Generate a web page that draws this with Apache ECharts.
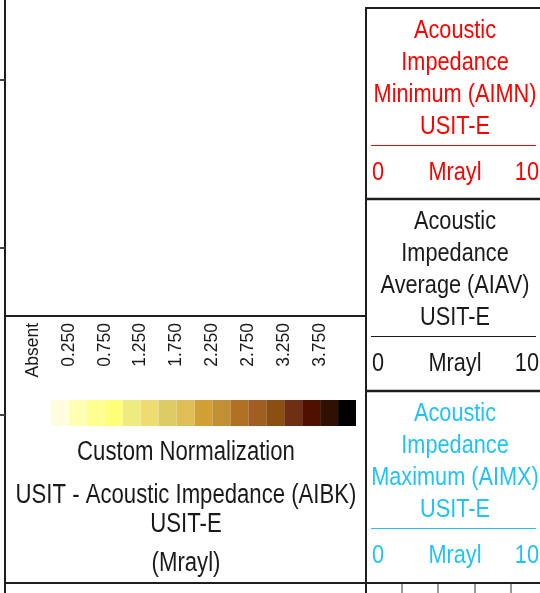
<!DOCTYPE html>
<html>
<head>
<meta charset="utf-8">
<script src="https://cdn.jsdelivr.net/npm/echarts@6/dist/echarts.min.js"></script>
<style>html,body{margin:0;padding:0;background:#fff;}#c{width:540px;height:593px;}</style>
</head>
<body>
<div id="c"></div>
<script>
// ---- data ----
var cellNames = ['Absent','0.000-0.250','0.250-0.500','0.500-0.750','0.750-1.000','1.000-1.250','1.250-1.500','1.500-1.750','1.750-2.000','2.000-2.250','2.250-2.500','2.500-2.750','2.750-3.000','3.000-3.250','3.250-3.500','3.500-3.750','3.750-4.000','4.000-4.250'];
var cellFill = ['-',1,1,1,1,1,1,1,1,1,1,1,1,1,1,1,1,1];
var cellColors = ['#ffffff','#ffffe0','#ffffb4','#ffff90','#ffff78','#eeec80','#eedc70','#dccc66','#dfbe55','#d2a035','#c09032','#b07022','#a05f22','#8c4f12','#702e12','#501000','#301000','#000000'];
var tickLabels = ['Absent','0.250','0.750','1.250','1.750','2.250','2.750','3.250','3.750',''];
var legendTitle = 'Custom Normalization';
var legendLines = ['USIT - Acoustic Impedance (AIBK)','USIT-E','(Mrayl)'];
var panelTitles = [
  ['Acoustic','Impedance','Minimum (AIMN)','USIT-E'],
  ['Acoustic','Impedance','Average (AIAV)','USIT-E'],
  ['Acoustic','Impedance','Maximum (AIMX)','USIT-E']
];
var panelColors = ['#ff0000','#1a1a1a','#22c3f3'];
var scaleMin = ['0','0','0'];
var scaleMax = ['10','10','10'];
var scaleUnit = ['Mrayl','Mrayl','Mrayl'];

// ---- layout ----
var FONT = "'Liberation Sans',Arial,sans-serif";
var frame = '#1e1e1e';
var g = [];
function line(x1,y1,x2,y2,w,c){g.push({type:'line',silent:true,shape:{x1:x1,y1:y1,x2:x2,y2:y2},style:{stroke:c||frame,lineWidth:w||2}});}
function text(x,y,s,c,size,align,sx){g.push({type:'text',silent:true,x:x,y:y,scaleX:sx||0.82,style:{text:s,fill:c||'#1a1a1a',font:(size||26)+'px '+FONT,textAlign:align||'center',textVerticalAlign:'middle'}});}

// left track frame and depth ticks
line(5,0,5,593,2);
[80,248,415].forEach(function(y){line(0,y,5,y,2,'#444');});
// legend box
line(5,316,366,316,2);
// right column frame
line(366,7,366,593,2);
line(365,8,540,8,2);
line(366,199,540,199,2.5);
line(366,391,540,391,2.5);
line(5,583,540,583,2);
[402,438,475,511].forEach(function(x){line(x,583,x,593,1,'#333');});

// right panels
var panelTop = [8,199,391];
for (var p=0;p<3;p++){
  var o = panelTop[p]-8;
  var col = panelColors[p];
  for (var k=0;k<4;k++) text(455, 30.5+o+k*32, panelTitles[p][k], col, 26, 'center', 0.835);
  line(371,145.5+o,536,145.5+o,1,col);
  text(372,173+o,scaleMin[p],col,26,'left',0.835);
  text(455,173+o,scaleUnit[p],col,26,'center',0.835);
  text(539,173+o,scaleMax[p],col,26,'right',0.835);
}
// legend texts
text(186,453,legendTitle,'#1a1a1a',27);
text(186,496,legendLines[0],'#1a1a1a',27);
text(186,525,legendLines[1],'#1a1a1a',27);
text(186,564,legendLines[2],'#1a1a1a',27);

var chart = echarts.init(document.getElementById('c'), null, {renderer:'canvas'});
chart.setOption({
  animation:false,
  backgroundColor:'#ffffff',
  grid:{left:33,width:323,top:400,height:26,containLabel:false},
  xAxis:[
    {type:'category',data:cellNames,boundaryGap:true,show:false},
    {type:'value',min:0,max:18,interval:2,position:'top',
     axisLine:{show:false},axisTick:{show:false},splitLine:{show:false},
     axisLabel:{rotate:-90,margin:77,align:'right',verticalAlign:'middle',color:'#1a1a1a',
       fontFamily:FONT,fontSize:17.5,showMinLabel:true,showMaxLabel:true,
       formatter:function(v){return tickLabels[Math.round(v/2)]||'';}}}
  ],
  yAxis:{type:'value',min:0,max:1,show:false},
  series:[{type:'bar',xAxisIndex:0,barCategoryGap:'0%',silent:true,
    data:cellFill.map(function(v,i){return {value:v,itemStyle:{color:cellColors[i]}};})}],
  graphic:g
});
</script>
</body>
</html>
